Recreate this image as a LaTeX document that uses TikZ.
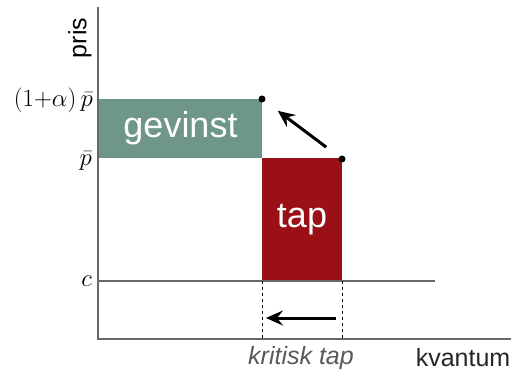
\documentclass[tikz,border=0pt]{standalone}
\usepackage{amsmath}
\usepackage{fontspec}
\setmainfont{Liberation Sans}
\usepackage{tikz}
\usetikzlibrary{arrows.meta,positioning}
\definecolor{gevinst}{HTML}{6F968A}
\definecolor{tap}{HTML}{9A1016}
\definecolor{akse}{HTML}{686868}

\begin{document}
\begin{tikzpicture}[x=1pt,y=-1pt,>={Stealth[length=17pt,width=15pt,inset=6pt]},
    akse/.style={draw=akse,line width=2.5pt},
    felt/.style={inner sep=0pt,text=white,font=\fontsize{36}{40}\selectfont},
    etikett/.style={font=\fontsize{25}{28}\selectfont},
    prikk/.style={circle,fill=black,inner sep=0pt,minimum size=7pt}]
        \useasboundingbox (0,0) rectangle (511,374);
        \path
        (98,339) coordinate(O)
        (98,7) coordinate(ytop)
        (511,339) coordinate(xend)
        (98,281) coordinate(c0)
        (435,281) coordinate(c1)
        (180.5,128.5) node[felt,fill=gevinst,minimum width=163pt,minimum height=59pt](G) {gevinst}
        (302,219.5) node[felt,fill=tap,minimum width=80pt,minimum height=123pt](T) {tap}
        (262,99) node[prikk](P2) {}
        (342,159) node[prikk](P1) {}
        (262,281) coordinate(d1)
        (342,281) coordinate(d2)
        (262,339) coordinate(e1)
        (342,339) coordinate(e2)
        (262,318) coordinate(q1)
        (342,318) coordinate(q2)
        (80,38) node[etikett,rotate=90](pris) {pris}
        (93,100) node[anchor=east,inner sep=0pt,font=\fontsize{24}{28}\selectfont](ap) {$(1{+}\alpha)\,\bar{p}$}
        (92,161) node[etikett,anchor=east,inner sep=0pt](p) {$\bar{p}$}
        (92,281) node[etikett,anchor=east,inner sep=0pt](c) {$c$}
        (301,358) node[etikett,text=black!65,font=\fontsize{25}{28}\selectfont\itshape](kt) {kritisk tap}
        (463,358) node[etikett,text=black!85](kv) {kvantum}
        ;

        \draw[akse] (ytop) -- (O) -- (xend);
        \draw[akse] (c0) -- (c1);
        \draw[dashed,line width=1pt] (d1) -- (e1);
        \draw[dashed,line width=1pt] (d2) -- (e2);
        \draw[->,line width=3pt,shorten <=16pt,shorten >=16pt] (P1) -- (P2);
        \draw[->,line width=3pt,shorten <=6pt,shorten >=4pt] (q2) -- (q1);
      \end{tikzpicture}
\end{document}
